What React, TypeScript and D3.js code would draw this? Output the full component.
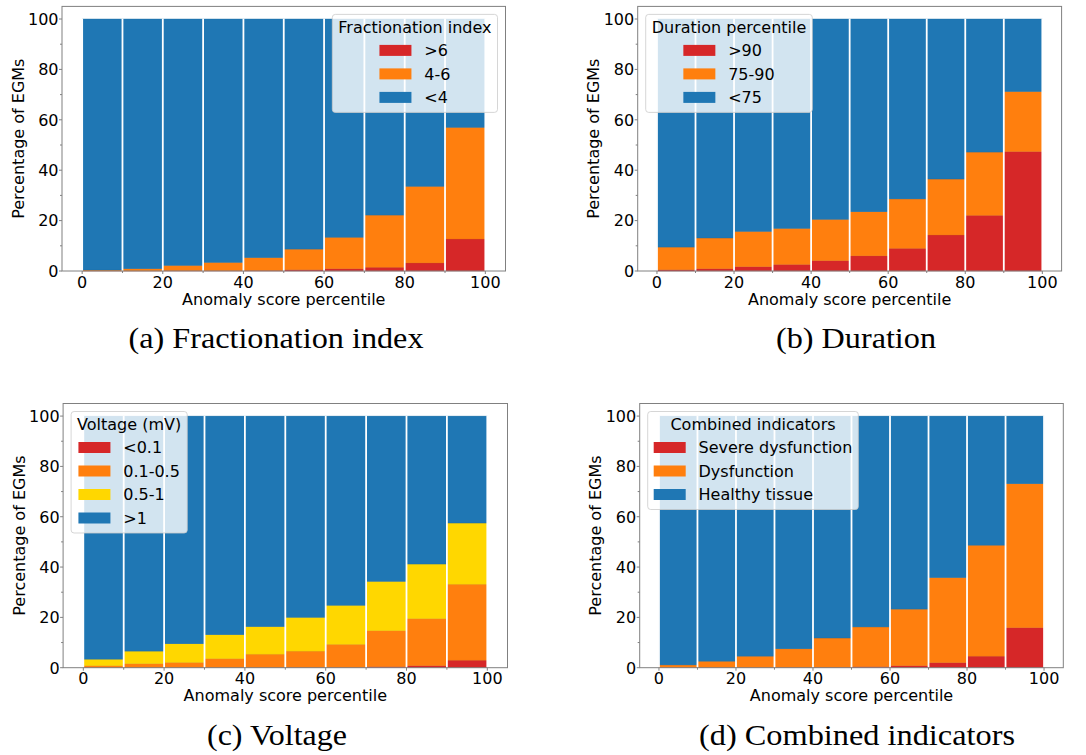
import React, { useEffect, useRef } from 'react';
import * as d3 from 'd3';

// Anomaly score percentile bins (left edges), each 10 wide
const BIN_STARTS = [0, 10, 20, 30, 40, 50, 60, 70, 80, 90];
const BIN_WIDTH = 10;
const X_TICKS = [0, 20, 40, 60, 80, 100];
const Y_TICKS = [0, 20, 40, 60, 80, 100];

// (a) Fractionation index
const FRAC_GT6 = [0.05, 0.05, 0.1, 0.1, 0.2, 0.5, 0.9, 1.5, 3.2, 12.7];
const FRAC_4_6 = [0.35, 0.85, 2.1, 3.3, 5.1, 8.2, 12.5, 20.7, 30.4, 44.3];
const FRAC_LT4 = [99.6, 99.1, 97.8, 96.6, 94.7, 91.3, 86.6, 77.8, 66.4, 43.0];

// (b) Duration percentile
const DUR_GT90 = [0.5, 0.9, 1.7, 2.6, 4.1, 6.0, 9.0, 14.3, 22.1, 47.4];
const DUR_75_90 = [9.0, 12.2, 14.0, 14.3, 16.4, 17.5, 19.6, 22.2, 25.1, 23.8];
const DUR_LT75 = [90.5, 86.9, 84.3, 83.1, 79.5, 76.5, 71.4, 63.5, 52.8, 28.8];

// (c) Voltage (mV)
const VOLT_LT01 = [0.05, 0.05, 0.05, 0.05, 0.05, 0.1, 0.1, 0.4, 0.8, 3.0];
const VOLT_01_05 = [0.75, 1.55, 2.05, 3.55, 5.35, 6.5, 9.2, 14.3, 18.7, 30.2];
const VOLT_05_1 = [2.6, 5.0, 7.4, 9.5, 10.9, 13.4, 15.5, 19.6, 21.7, 24.3];
const VOLT_GT1 = [96.6, 93.4, 90.5, 86.9, 83.7, 80.0, 75.2, 65.7, 58.8, 42.5];

// (d) Combined indicators
const COMB_SEVERE = [0.05, 0.05, 0.05, 0.1, 0.2, 0.4, 0.8, 2.0, 4.6, 15.9];
const COMB_DYSF = [1.05, 2.55, 4.55, 7.4, 11.6, 15.8, 22.5, 33.8, 44.1, 57.2];
const COMB_HEALTHY = [98.9, 97.4, 95.4, 92.5, 88.2, 83.8, 76.7, 64.2, 51.3, 26.9];

const RED = '#d62728';
const ORANGE = '#ff7f0e';
const YELLOW = '#ffd700';
const BLUE = '#1f77b4';

interface Layer {
  label: string;
  color: string;
  values: number[];
}

interface Panel {
  left: number;
  right: number;
  top: number;
  bottom: number;
  legendLoc: 'left' | 'right';
  legendTitle: string;
  caption: string;
  captionX: number;
  captionY: number;
  captionW: number;
  layers: Layer[]; // bottom of the stack first
}

const PANELS: Panel[] = [
  {
    left: 62, right: 505.5, top: 6.4, bottom: 271,
    legendLoc: 'right', legendTitle: 'Fractionation index',
    caption: '(a) Fractionation index', captionX: 276, captionY: 348, captionW: 295,
    layers: [
      { label: '>6', color: RED, values: FRAC_GT6 },
      { label: '4-6', color: ORANGE, values: FRAC_4_6 },
      { label: '<4', color: BLUE, values: FRAC_LT4 },
    ],
  },
  {
    left: 637.7, right: 1061.6, top: 6.4, bottom: 271,
    legendLoc: 'left', legendTitle: 'Duration percentile',
    caption: '(b) Duration', captionX: 856, captionY: 348, captionW: 160,
    layers: [
      { label: '>90', color: RED, values: DUR_GT90 },
      { label: '75-90', color: ORANGE, values: DUR_75_90 },
      { label: '<75', color: BLUE, values: DUR_LT75 },
    ],
  },
  {
    left: 63.1, right: 507.5, top: 403.5, bottom: 667.7,
    legendLoc: 'left', legendTitle: 'Voltage (mV)',
    caption: '(c) Voltage', captionX: 277, captionY: 745, captionW: 140,
    layers: [
      { label: '<0.1', color: RED, values: VOLT_LT01 },
      { label: '0.1-0.5', color: ORANGE, values: VOLT_01_05 },
      { label: '0.5-1', color: YELLOW, values: VOLT_05_1 },
      { label: '>1', color: BLUE, values: VOLT_GT1 },
    ],
  },
  {
    left: 639.7, right: 1063.3, top: 403.5, bottom: 667.7,
    legendLoc: 'left', legendTitle: 'Combined indicators',
    caption: '(d) Combined indicators', captionX: 857, captionY: 745, captionW: 316,
    layers: [
      { label: 'Severe dysfunction', color: RED, values: COMB_SEVERE },
      { label: 'Dysfunction', color: ORANGE, values: COMB_DYSF },
      { label: 'Healthy tissue', color: BLUE, values: COMB_HEALTHY },
    ],
  },
];

const FONT = '"DejaVu Sans", sans-serif';
const FS = 16;
const AXIS_GRAY = '#808080';

export default function App() {
  const svgRef = useRef<SVGSVGElement>(null);

  useEffect(() => {
    if (!svgRef.current) return;
    const svg = d3.select(svgRef.current);
    svg.selectAll('*').remove();

    PANELS.forEach((p) => {
      const x = d3.scaleLinear().domain([-5, 105]).range([p.left, p.right]);
      const y = d3.scaleLinear().domain([0, 105]).range([p.bottom, p.top]);
      const g = svg.append('g');

      // stacked bars
      const keys = p.layers.map((l) => l.label);
      const rows = BIN_STARTS.map((b, i) => {
        const r: any = { bin: b };
        p.layers.forEach((l) => (r[l.label] = l.values[i]));
        return r;
      });
      const series = d3.stack<any>().keys(keys)(rows);

      series.forEach((s, k) => {
        const color = p.layers[k].color;
        g.append('g')
          .selectAll('rect')
          .data(s)
          .enter()
          .append('rect')
          .attr('x', (d) => x(d.data.bin))
          .attr('width', (d) => x(d.data.bin + BIN_WIDTH) - x(d.data.bin))
          .attr('y', (d) => y(d[1]))
          .attr('height', (d) => Math.max(0, y(d[0]) - y(d[1])))
          .attr('fill', color)
          .attr('stroke', d3.color(color)!.darker(0.3).formatHex())
          .attr('stroke-width', 0.4);
      });

      // white bin separators
      const edges = [...BIN_STARTS, BIN_STARTS[BIN_STARTS.length - 1] + BIN_WIDTH];
      g.append('g')
        .selectAll('line')
        .data(edges)
        .enter()
        .append('line')
        .attr('x1', (d) => x(d))
        .attr('x2', (d) => x(d))
        .attr('y1', y(0))
        .attr('y2', y(100) - 0.5)
        .attr('stroke', '#ffffff')
        .attr('stroke-width', 1.8);

      // frame
      g.append('rect')
        .attr('x', p.left)
        .attr('y', p.top)
        .attr('width', p.right - p.left)
        .attr('height', p.bottom - p.top)
        .attr('fill', 'none')
        .attr('stroke', AXIS_GRAY)
        .attr('stroke-width', 1);

      // x ticks (major + minor)
      const xMinor = d3.range(10, 100, 20);
      g.append('g')
        .selectAll('line')
        .data([...X_TICKS.map((t) => ({ t, len: 3 })), ...xMinor.map((t) => ({ t, len: 2 }))])
        .enter()
        .append('line')
        .attr('x1', (d) => x(d.t))
        .attr('x2', (d) => x(d.t))
        .attr('y1', p.bottom)
        .attr('y2', (d) => p.bottom + d.len)
        .attr('stroke', AXIS_GRAY);
      g.append('g')
        .selectAll('text')
        .data(X_TICKS)
        .enter()
        .append('text')
        .attr('x', (d) => x(d))
        .attr('y', p.bottom + 16.5)
        .attr('text-anchor', 'middle')
        .attr('font-family', FONT)
        .attr('font-size', FS)
        .attr('fill', '#000')
        .text((d) => d3.format('d')(d));

      // y ticks (major + minor)
      const yMinor = d3.range(10, 100, 20);
      g.append('g')
        .selectAll('line')
        .data([...Y_TICKS.map((t) => ({ t, len: 3 })), ...yMinor.map((t) => ({ t, len: 2 }))])
        .enter()
        .append('line')
        .attr('x1', p.left)
        .attr('x2', (d) => p.left - d.len)
        .attr('y1', (d) => y(d.t))
        .attr('y2', (d) => y(d.t))
        .attr('stroke', AXIS_GRAY);
      g.append('g')
        .selectAll('text')
        .data(Y_TICKS)
        .enter()
        .append('text')
        .attr('x', p.left - 3.5)
        .attr('y', (d) => y(d) + 5.8)
        .attr('text-anchor', 'end')
        .attr('font-family', FONT)
        .attr('font-size', FS)
        .attr('fill', '#000')
        .text((d) => d3.format('d')(d));

      // axis labels
      g.append('text')
        .attr('x', (p.left + p.right) / 2)
        .attr('y', p.bottom + 33.5)
        .attr('text-anchor', 'middle')
        .attr('font-family', FONT)
        .attr('font-size', FS)
        .attr('fill', '#000')
        .text('Anomaly score percentile');

      g.append('text')
        .attr('transform', `translate(${p.left - 44},${(p.top + p.bottom) / 2}) rotate(-90)`)
        .attr('dy', '0.35em')
        .attr('text-anchor', 'middle')
        .attr('font-family', FONT)
        .attr('font-size', FS)
        .attr('fill', '#000')
        .text('Percentage of EGMs');

      // legend (entries listed top-down in the stack's bottom-first order)
      const lg = g.append('g');
      const title = lg
        .append('text')
        .attr('font-family', FONT)
        .attr('font-size', FS)
        .attr('text-anchor', 'middle')
        .attr('fill', '#000')
        .text(p.legendTitle);
      const labels = lg
        .selectAll('text.lab')
        .data(p.layers)
        .enter()
        .append('text')
        .attr('class', 'lab')
        .attr('font-family', FONT)
        .attr('font-size', FS)
        .attr('fill', '#000')
        .text((d) => d.label);

      const titleW = (title.node() as SVGTextElement).getComputedTextLength();
      let maxLab = 0;
      labels.each(function () {
        maxLab = Math.max(maxLab, (this as SVGTextElement).getComputedTextLength());
      });
      const handleW = 32;
      const handleGap = 12.8;
      const blockW = handleW + handleGap + maxLab;
      const boxW = Math.max(titleW, blockW) + 12;
      const pitch = 23.5;
      const n = p.layers.length;
      const boxH = 36 + pitch * (n - 1) + 15;
      const boxX = p.legendLoc === 'right' ? p.right - 8 - boxW : p.left + 8;
      const boxY = p.top + 8;
      const blockX = boxX + (boxW - blockW) / 2;

      lg.insert('rect', ':first-child')
        .attr('x', boxX)
        .attr('y', boxY)
        .attr('width', boxW)
        .attr('height', boxH)
        .attr('rx', 3)
        .attr('fill', '#ffffff')
        .attr('fill-opacity', 0.8)
        .attr('stroke', '#cccccc')
        .attr('stroke-opacity', 0.8);

      title.attr('x', boxX + boxW / 2).attr('y', boxY + 18.9);

      lg.selectAll('rect.patch')
        .data(p.layers)
        .enter()
        .append('rect')
        .attr('class', 'patch')
        .attr('x', blockX)
        .attr('y', (_, i) => boxY + 36 + pitch * i - 5.5)
        .attr('width', handleW)
        .attr('height', 11)
        .attr('fill', (d) => d.color);

      labels
        .attr('x', blockX + handleW + handleGap)
        .attr('y', (_, i) => boxY + 36 + pitch * i + 5.8);

      // caption
      svg
        .append('text')
        .attr('x', p.captionX - p.captionW / 2)
        .attr('y', p.captionY)
        .attr('font-family', '"Liberation Serif", serif')
        .attr('font-size', 29)
        .attr('textLength', p.captionW)
        .attr('lengthAdjust', 'spacingAndGlyphs')
        .attr('fill', '#000')
        .text(p.caption);
    });
  }, []);

  return (
    <div style={{ position: 'absolute', left: 0, top: 0 }}>
      <svg ref={svgRef} width={1086} height={755} style={{ display: 'block', background: '#fff' }} />
    </div>
  );
}
